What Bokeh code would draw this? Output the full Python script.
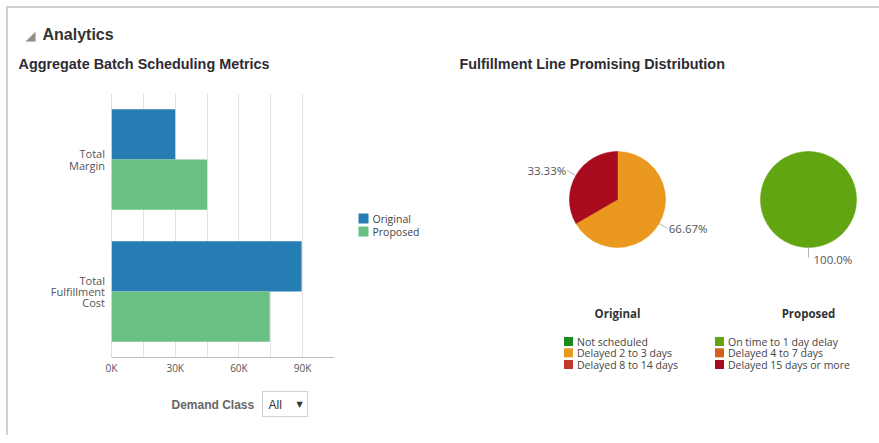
import math
from bokeh.plotting import figure
from bokeh.models import (ColumnDataSource, FactorRange, Range1d, FixedTicker, Span,
                          CustomJSTickFormatter)
from bokeh.transform import dodge
from bokeh.layouts import row, column
from bokeh.core.properties import value
from bokeh.embed import file_html
from bokeh.resources import INLINE

# ---------------- data ----------------
metrics = ["Total Margin", "Total Fulfillment Cost"]
metric_labels = ["Total\nMargin", "Total\nFulfillment\nCost"]
series = ["Original", "Proposed"]
series_colors = ["#267db3", "#68c182"]
original_values = [30000, 89500]
proposed_values = [45000, 74500]
x_ticks = [0, 30000, 60000, 90000]
grid_ticks = [15000, 30000, 45000, 60000, 75000, 90000, 105000]
x_max = 105000

status = ["Not scheduled", "On time to 1 day delay", "Delayed 2 to 3 days",
          "Delayed 4 to 7 days", "Delayed 8 to 14 days", "Delayed 15 days or more"]
status_colors = ["#1a8c1a", "#62a512", "#ea981e", "#d2621b", "#c0392b", "#a80a1e"]
original_pct = [0, 0, 66.67, 0, 0, 33.33]
proposed_pct = [0, 100.0, 0, 0, 0, 0]
pie_titles = ["Original", "Proposed"]

header_text = "Analytics"
bar_title = "Aggregate Batch Scheduling Metrics"
pie_title = "Fulfillment Line Promising Distribution"
filter_label = "Demand Class"
filter_value = "All"

SANS = "Open Sans"
ARIAL = "Liberation Sans"
BORDER = "#d3cfcb"


def blank(width, height, x_range, y_range, top=0, bottom=0):
    f = figure(width=width, height=height, x_range=x_range, y_range=y_range,
               min_border_left=0, min_border_right=0,
               min_border_top=top, min_border_bottom=bottom,
               x_axis_type=None, y_axis_type=None,
               output_backend="svg", toolbar_location=None, outline_line_color=None,
               background_fill_color="white", border_fill_color="white")
    f.grid.visible = False
    return f


# ---------------- left header (page coords, y down) ----------------
header = blank(440, 72, Range1d(8, 448), Range1d(80, 8))
header.text(x=[30], y=[35], text=["\u25e2"], text_align="center", text_baseline="middle",
            text_font=value("DejaVu Sans"), text_font_size="13px", text_color="#8f8f8f")
header.text(x=[42], y=[34], text=[header_text], text_align="left", text_baseline="middle",
            text_font=value(ARIAL), text_font_size="16px", text_font_style="bold",
            text_color="#333333")
header.text(x=[18], y=[63], text=[bar_title], text_align="left",
            text_baseline="middle", text_font=value(ARIAL), text_font_size="14.4px",
            text_font_style="bold", text_color="#2e2b33")

# ---------------- bar chart ----------------
TOP, BOTTOM = 13, 23
y_range = FactorRange(factors=metrics[::-1])

bar = figure(width=229, height=300, y_range=y_range, x_range=Range1d(0, x_max),
             min_border_left=6, min_border_right=0, min_border_top=TOP, min_border_bottom=BOTTOM,
             y_axis_location=None,
             output_backend="svg", toolbar_location=None,
             background_fill_color="white", border_fill_color="white", outline_line_color=None)

src = ColumnDataSource(dict(metric=metrics, Original=original_values, Proposed=proposed_values))
bar.hbar(y=dodge("metric", 0.19, range=y_range), left=0, right="Original", height=0.38,
         source=src, fill_color=series_colors[0], line_color=None)
bar.hbar(y=dodge("metric", -0.19, range=y_range), left=0, right="Proposed", height=0.38,
         source=src, fill_color=series_colors[1], line_color=None)

bar.xaxis.ticker = FixedTicker(ticks=x_ticks)
bar.xaxis.formatter = CustomJSTickFormatter(code="return (tick/1000).toFixed(0) + 'K';")
bar.xaxis.axis_line_color = "#bdbdbd"
bar.xaxis.major_tick_line_color = None
bar.xaxis.minor_tick_line_color = None
bar.xaxis.major_tick_out = 0
bar.xaxis.major_tick_in = 0
bar.xaxis.minor_tick_out = 0
bar.xaxis.minor_tick_in = 0
bar.xaxis.major_label_text_font = SANS
bar.xaxis.major_label_text_color = "#555555"
bar.xaxis.major_label_text_font_size = "10px"
bar.xaxis.major_label_standoff = 3
bar.ygrid.grid_line_color = None
bar.xgrid.ticker = FixedTicker(ticks=grid_ticks)
bar.xgrid.grid_line_color = "#e3e3e3"
bar.add_layout(Span(location=0, dimension="height", line_color="#bdbdbd", line_width=1))

# category labels, drawn on the shared factor range
gutter = blank(97, 300, Range1d(8, 105), y_range, TOP, BOTTOM)
gutter.text(x=[104.5] * len(metrics), y=metrics, text=metric_labels, text_align="right",
            text_baseline="middle", text_line_height=0.74, text_font=value(SANS),
            text_font_size="11px", text_color="#555555")

# series legend (page coords, y down)
legend_fig = blank(114, 300, Range1d(334, 448), Range1d(357, 93), TOP, BOTTOM)
leg_y = [218, 231]
legend_fig.scatter(x=[363] * len(series), y=leg_y, marker="square", size=10,
                   fill_color=series_colors, line_color=None)
legend_fig.text(x=[372] * len(series), y=leg_y, text=series, text_align="left",
                text_baseline="middle", text_font=value(SANS), text_font_size="10.5px",
                text_color="#444444")

# ---------------- left footer (page coords, y down) ----------------
footer = blank(440, 55, Range1d(8, 448), Range1d(435, 380))
footer.text(x=[171], y=[404], text=[filter_label], text_align="left", text_baseline="middle",
            text_font=value(ARIAL), text_font_size="12px", text_font_style="bold",
            text_color="#666666")
footer.quad(left=[262], right=[307], top=[391], bottom=[416], fill_color="white",
            line_color="#d0d0d0", line_width=1)
footer.text(x=[268], y=[404], text=[filter_value], text_align="left", text_baseline="middle",
            text_font=value(ARIAL), text_font_size="12px", text_color="#333333")
footer.text(x=[296], y=[404], text=["\u25bc"], text_align="left", text_baseline="middle",
            text_font=value("DejaVu Sans"), text_font_size="8px", text_color="#333333")

# ---------------- right side: pies (x page coords, y = 435 - page y) ----------------
pie = blank(431, 427, Range1d(448, 879), Range1d(0, 427))

pie_cx = [617, 808]
pie_cy = 236
pie_r = 48

for k, vals in enumerate([original_pct, proposed_pct]):
    total = float(sum(vals))
    cum = 0.0
    starts, ends, cols = [], [], []
    lx0, ly0, lx1, ly1 = [], [], [], []
    tx, ty, tt, talign = [], [], [], []
    for name, v, c in zip(status, vals, status_colors):
        if v <= 0:
            continue
        frac = v / total
        a0 = math.pi / 2 - 2 * math.pi * cum / total
        span = min(2 * math.pi * frac, 2 * math.pi - 1e-3)
        a1 = a0 - span
        cum += v
        starts.append(a0)
        ends.append(a1)
        cols.append(c)
        mid = a0 - math.pi * frac
        cx, cy = pie_cx[k], pie_cy
        ex, ey = cx + pie_r * math.cos(mid), cy + pie_r * math.sin(mid)
        ox, oy = cx + (pie_r + 10) * math.cos(mid), cy + (pie_r + 10) * math.sin(mid)
        lx0.append(ex); ly0.append(ey); lx1.append(ox); ly1.append(oy)
        cm = math.cos(mid)
        if cm > 0.2:
            tx.append(ox + 1); talign.append("left"); ty.append(oy)
        elif cm < -0.2:
            tx.append(ox - 1); talign.append("right"); ty.append(oy)
        else:
            tx.append(ox + 5); talign.append("left"); ty.append(oy - 2)
        tt.append(f"{100 * frac:#.4g}%")
    wsrc = ColumnDataSource(dict(start=starts, end=ends, color=cols))
    pie.wedge(x=pie_cx[k], y=pie_cy, radius=pie_r, start_angle="start", end_angle="end",
              direction="clock", fill_color="color", line_color="color", line_width=0.6,
              source=wsrc)
    pie.segment(x0=lx0, y0=ly0, x1=lx1, y1=ly1, line_color="#b5b5b5", line_width=1)
    pie.text(x=tx, y=ty, text=tt, text_align=talign, text_baseline="middle",
             text_font=value(SANS), text_font_size="11.5px", text_color="#555555")

pie.text(x=[459], y=[372], text=[pie_title], text_align="left", text_baseline="middle",
         text_font=value(ARIAL), text_font_size="14.4px", text_font_style="bold",
         text_color="#2e2b33")
pie.text(x=pie_cx, y=[122, 122], text=pie_titles, text_align="center", text_baseline="middle",
         text_font=value(SANS), text_font_size="11.5px", text_font_style="bold",
         text_color="#333333")

# pie legend (2 columns, row-major)
col_x = [568, 719]
row_y = [94, 82.7, 71]
lg_x = [col_x[i % 2] for i in range(len(status))]
lg_y = [row_y[i // 2] for i in range(len(status))]
pie.scatter(x=lg_x, y=lg_y, marker="square", size=9, fill_color=status_colors, line_color=None)
pie.text(x=[x + 8.5 for x in lg_x], y=lg_y, text=status, text_align="left",
         text_baseline="middle", text_font=value(SANS), text_font_size="10.5px",
         text_color="#444444")

left = column(header, row(gutter, bar, legend_fig), footer)
layout = row(left, pie,
             styles={"margin": "6px 0 0 6px",
                     "border-top": f"2px solid {BORDER}",
                     "border-left": f"2px solid {BORDER}"})

open("out.html", "w").write(file_html(layout, INLINE))
